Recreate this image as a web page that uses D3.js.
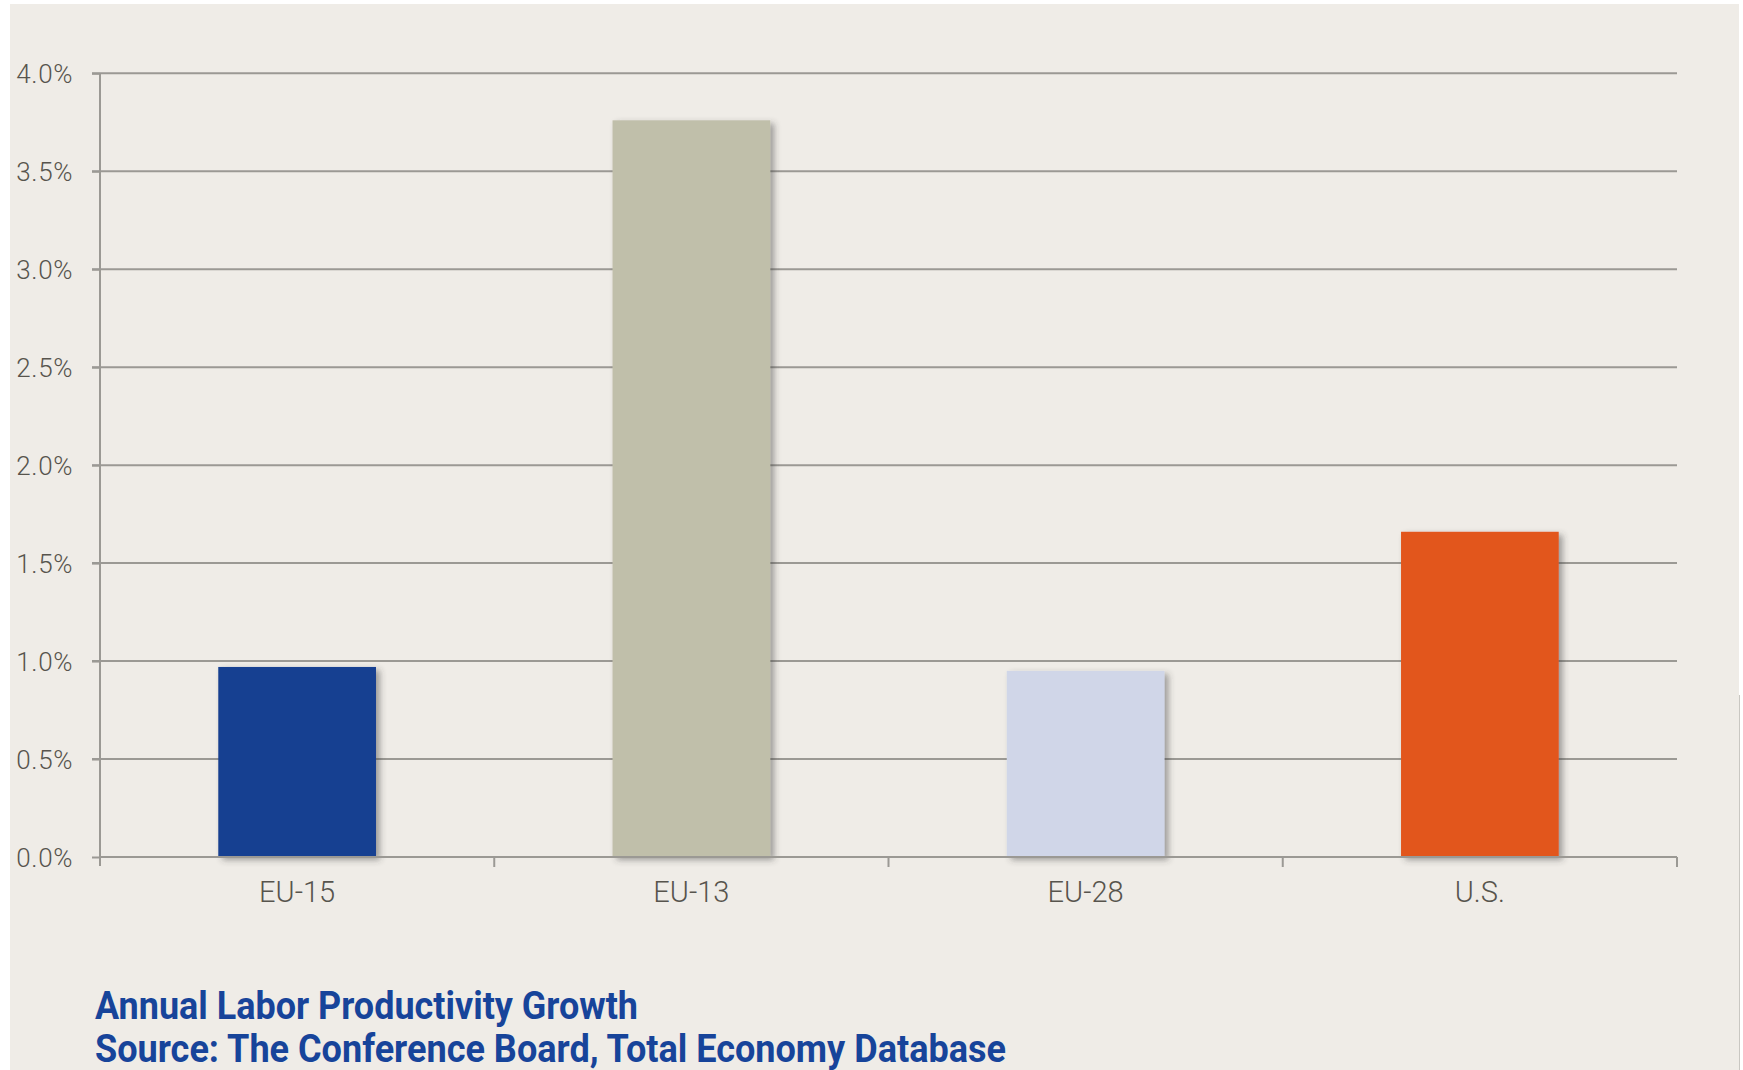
<!DOCTYPE html>
<html>
<head>
<meta charset="utf-8">
<script src="https://cdn.jsdelivr.net/npm/d3@7"></script>
<style>
  html, body { margin: 0; padding: 0; background: #ffffff; }
  svg { display: block; }
</style>
</head>
<body>
<svg id="chart" width="1743" height="1070"></svg>
<script>
// Annual labor productivity growth by region
const categories = ["EU-15", "EU-13", "EU-28", "U.S."];
const growth = [0.97, 3.76, 0.95, 1.66];
const barColors = ["#163f91", "#c0bfaa", "#d0d6e8", "#e2571e"];
const yTicks = [0, 0.5, 1.0, 1.5, 2.0, 2.5, 3.0, 3.5, 4.0];
const captionLines = [
  "Annual Labor Productivity Growth",
  "Source: The Conference Board, Total Economy Database"
];

const svg = d3.select("#chart");
const W = 1743, H = 1070;
const plot = { left: 100, right: 1677, top: 73.3, bottom: 857 };

// panel background
svg.append("rect")
  .attr("x", 10).attr("y", 4)
  .attr("width", 1729).attr("height", H - 4)
  .attr("fill", "#efece7");
svg.append("line")
  .attr("x1", 1739.5).attr("x2", 1739.5)
  .attr("y1", 695).attr("y2", H)
  .attr("stroke", "#c9c7c2").attr("stroke-width", 1);

// soft shadow under each column
const defs = svg.append("defs");
const f = defs.append("filter").attr("id", "barShadow")
  .attr("x", "-10%").attr("y", "-10%").attr("width", "130%").attr("height", "130%");
f.append("feDropShadow")
  .attr("dx", 4).attr("dy", 3).attr("stdDeviation", 3)
  .attr("flood-color", "#3a3a3a").attr("flood-opacity", 0.45);

const x = d3.scaleBand().domain(categories).range([plot.left, plot.right]).padding(0);
const y = d3.scaleLinear().domain([0, 4]).range([plot.bottom, plot.top]);

const gridColor = "#9b9994";
const labelColor = "#57544d";

// horizontal gridlines
svg.append("g").selectAll("line")
  .data(yTicks.filter(d => d > 0))
  .join("line")
  .attr("x1", plot.left - 8).attr("x2", plot.right)
  .attr("y1", d => y(d)).attr("y2", d => y(d))
  .attr("stroke", gridColor).attr("stroke-width", 2);

// columns: 40% of each category slot
const barW = x.bandwidth() * 0.4;
svg.append("g").selectAll("rect")
  .data(categories)
  .join("rect")
  .attr("x", d => x(d) + (x.bandwidth() - barW) / 2)
  .attr("y", (d, i) => y(growth[i]))
  .attr("width", barW)
  .attr("height", (d, i) => y(0) - y(growth[i]))
  .attr("fill", (d, i) => barColors[i])
  .attr("filter", "url(#barShadow)");

// y axis
const yAxis = svg.append("g")
  .attr("transform", `translate(${plot.left},0)`)
  .call(d3.axisLeft(y).tickValues(yTicks).tickSize(8).tickPadding(19)
    .tickFormat(d => d.toFixed(1) + "%"));
yAxis.select(".domain")
  .attr("stroke", gridColor).attr("stroke-width", 2)
  .attr("d", `M0,${plot.top}V${plot.bottom + 9}`);
yAxis.selectAll(".tick line").attr("stroke", gridColor).attr("stroke-width", 2);
yAxis.selectAll(".tick text")
  .attr("fill", labelColor)
  .style("font-family", "Roboto, 'Liberation Sans', sans-serif")
  .style("font-weight", 300)
  .style("font-size", "26px")
  .style("letter-spacing", "0.6px")
  .attr("dy", "0.35em");

// x axis
const xAxis = svg.append("g")
  .attr("transform", `translate(0,${plot.bottom})`)
  .call(d3.axisBottom(x).tickSize(0).tickPadding(24));
xAxis.select(".domain").attr("stroke", gridColor).attr("stroke-width", 2)
  .attr("d", `M${plot.left},0H${plot.right}`);
xAxis.selectAll(".tick text")
  .attr("fill", labelColor)
  .style("font-family", "Roboto, 'Liberation Sans', sans-serif")
  .style("font-weight", 300)
  .style("font-size", "29px")
  .attr("dy", "0.71em");

// category boundary ticks
const bounds = categories.map(c => x(c)).concat([plot.right]);
xAxis.append("g").selectAll("line")
  .data(bounds.slice(1))
  .join("line")
  .attr("x1", d => d).attr("x2", d => d)
  .attr("y1", 0).attr("y2", 10)
  .attr("stroke", gridColor).attr("stroke-width", 2);

// caption
const capWidths = [543, 911];
svg.append("g").selectAll("text")
  .data(captionLines)
  .join("text")
  .attr("x", 95)
  .attr("y", (d, i) => 1018.5 + i * 43.4)
  .attr("fill", "#17449a")
  .attr("textLength", (d, i) => capWidths[i])
  .attr("lengthAdjust", "spacingAndGlyphs")
  .style("font-family", "Roboto, 'Liberation Sans', sans-serif")
  .style("font-weight", 700)
  .style("font-size", "38px")
  .text(d => d);
</script>
</body>
</html>
